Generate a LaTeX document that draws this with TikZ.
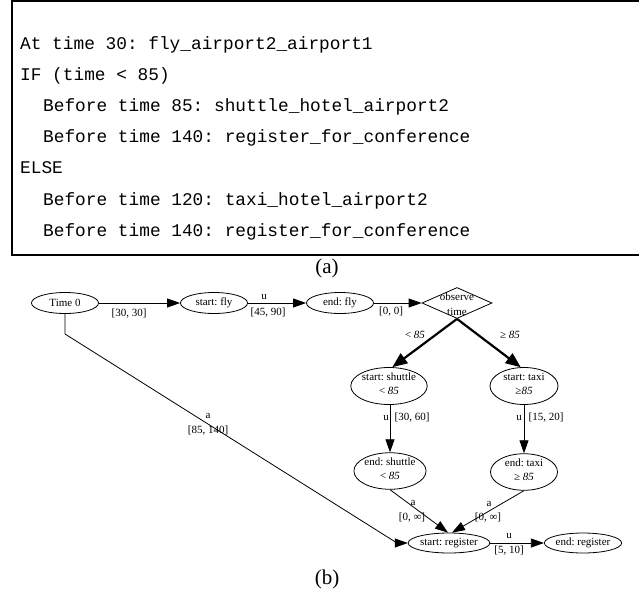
\documentclass[tikz,border=0pt]{standalone}
\usepackage{fontspec}
\setmainfont{Liberation Serif}
\newfontfamily\codefont{Liberation Mono}
\usetikzlibrary{shapes.geometric,arrows.meta}
\begin{document}
\frenchspacing
\begin{tikzpicture}[x=1pt,y=-1pt,
  ev/.style={draw, ellipse, line width=0.8pt, inner sep=0pt, font=\fontsize{11}{14}\selectfont, align=center},
  lab/.style={inner sep=0pt, font=\fontsize{11}{13}\selectfont},
  conn/.style={line width=0.8pt, -{Triangle[length=13pt,width=9pt]}},
  bold/.style={line width=2.2pt, -{Triangle[length=15pt,width=12pt]}},
  codeline/.style={anchor=base west, inner sep=0pt, font=\codefont\fontsize{17.8}{20}\selectfont}]
\useasboundingbox (0,0) rectangle (639,597);
\begin{scope}
\clip (0,0) rectangle (639,597);
\draw[line width=2pt] (12,1) rectangle (650,255);
\end{scope}
\node[codeline] (c1) at (20,49) {At time 30: fly\_airport2\_airport1};
\node[codeline] (c2) at (20,80) {IF (time < 85)};
\node[codeline] (c3) at (43,111) {Before time 85: shuttle\_hotel\_airport2};
\node[codeline] (c4) at (43,142) {Before time 140: register\_for\_conference};
\node[codeline] (c5) at (20,173) {ELSE};
\node[codeline] (c6) at (43,205) {Before time 120: taxi\_hotel\_airport2};
\node[codeline] (c7) at (43,236) {Before time 140: register\_for\_conference};
\node[inner sep=0pt, font=\fontsize{21}{24}\selectfont] (capa) at (327,268) {(a)};
\node[inner sep=0pt, font=\fontsize{21}{24}\selectfont] (capb) at (327,579) {(b)};
% nodes
\node[ev, minimum width=67pt, minimum height=21pt] (t0) at (65,303) {Time 0};
\node[ev, minimum width=67pt, minimum height=21pt] (sfly) at (214,303) {start: fly};
\node[ev, minimum width=67pt, minimum height=21pt] (efly) at (340,303) {end: fly};
\node[draw, diamond, line width=0.8pt, minimum width=70pt, minimum height=31pt, inner sep=0pt] (obs) at (457,303) {};
\node[align=center, inner sep=0pt, font=\fontsize{11}{15}\selectfont] (obst) at (457,304) {observe\\time};
\node[ev, minimum width=64pt, minimum height=37pt] (ss) at (389,386) {start: shuttle\\\strut< \textit{85}};
\node[ev, minimum width=68pt, minimum height=37pt] (st) at (524,386) {start: taxi\\\strut≥\textit{85}};
\node[ev, minimum width=68pt, minimum height=34pt] (es) at (390,471) {end: shuttle\\\strut< \textit{85}};
\node[ev, minimum width=67pt, minimum height=36pt] (et) at (524,472) {end: taxi\\\strut≥ \textit{85}};
\node[ev, minimum width=69pt, minimum height=20pt] (sr) at (449,543) {start: register};
\node[ev, minimum width=68pt, minimum height=20pt] (er) at (583,543) {end: register};
\coordinate (b1) at (65,334);
\coordinate (b2) at (397,543);
% edges
\draw[conn] (t0) -- (sfly);
\draw[conn] (sfly) -- (efly);
\draw[conn] (efly) -- (obs);
\draw[bold] (obs.south) -- (ss.80);
\draw[bold] (obs.south) -- (st.100);
\draw[conn] (ss.south -| es) -- (es.north);
\draw[conn] (st.south) -- (et.north);
\draw[conn] (es.south) -- ([xshift=-1pt]sr.north);
\draw[conn] (et.south) -- ([xshift=3pt]sr.north);
\draw[conn] (sr) -- (er);
\draw[conn] (t0.south) -- (b1) -- (b2) -- (sr.west);
% labels
\node[lab] (l1) at (129,314) {[30, 30]};
\node[lab] (l2u) at (264,297) {u};
\node[lab] (l2) at (268,313) {[45, 90]};
\node[lab] (l3) at (391,312) {[0, 0]};
\node[lab] (l4) at (415,335) {< \textit{85}};
\node[lab] (l5) at (510,335) {≥ \textit{85}};
\node[lab] (l6u) at (386,418) {u};
\node[lab] (l6) at (412,418) {[30, 60]};
\node[lab] (l7u) at (519,418) {u};
\node[lab] (l7) at (546,418) {[15, 20]};
\node[lab] (l8u) at (413,503) {a};
\node[lab] (l8) at (412,518) {[0, ∞]};
\node[lab] (l9u) at (489,504) {a};
\node[lab] (l9) at (488,518) {[0, ∞]};
\node[lab] (l10u) at (208,416) {a};
\node[lab] (l10) at (208,431) {[85, 140]};
\node[lab] (l11u) at (509,536) {u};
\node[lab] (l11) at (509,551) {[5, 10]};
\end{tikzpicture}
\end{document}
